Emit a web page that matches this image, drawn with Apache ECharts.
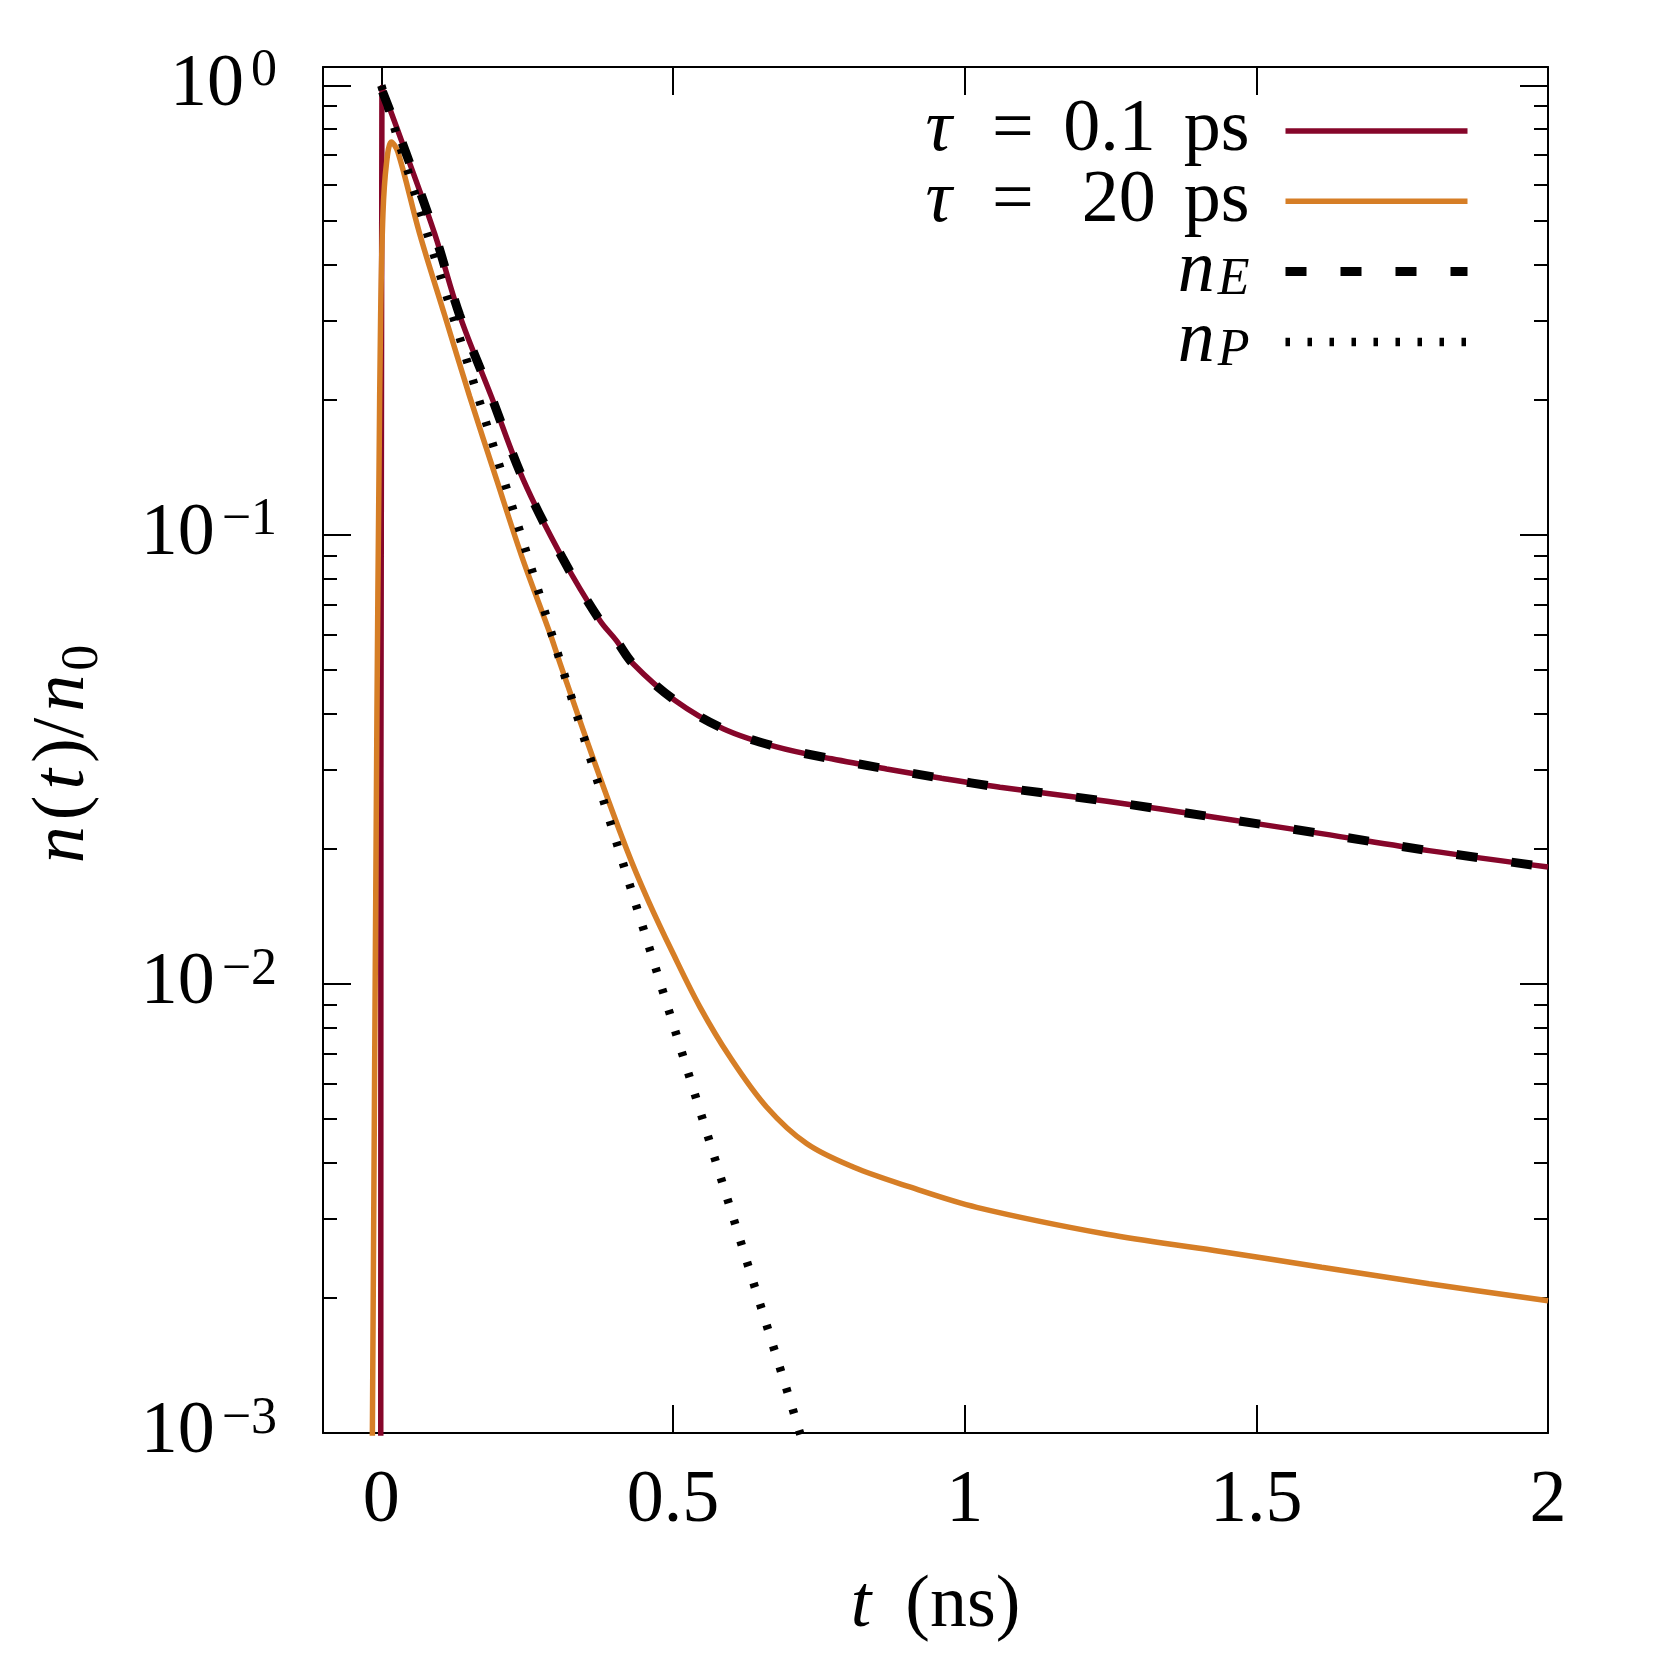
<!DOCTYPE html>
<html>
<head>
<meta charset="utf-8">
<title>n(t)/n0</title>
<script src="https://cdn.jsdelivr.net/npm/echarts@6/dist/echarts.min.js"></script>
<style>
  html, body { margin: 0; padding: 0; background: #fff; }
  #chart { width: 1661px; height: 1661px; }
</style>
</head>
<body>
<div id="chart"></div>
<script>
// values: t in ns, n = n(t)/n0
const seriesNames = ["tau01", "tau20", "nE", "nP"];

const tShort = [-0.001, 0.001, 0.0417, 0.0914, 0.1343, 0.1887, 0.2429, 0.31, 0.3744, 0.403, 0.4316, 0.503, 0.586, 0.6775, 0.7719, 0.8662, 0.9605, 1.0606, 1.244, 1.428, 1.612, 1.796, 2.0];
const nShort = [0.0008, 0.99, 0.711, 0.468, 0.308, 0.203, 0.133, 0.089, 0.0645, 0.0581, 0.0516, 0.0428, 0.037, 0.0337, 0.0317, 0.0301, 0.0287, 0.0274, 0.0255, 0.0235, 0.0216, 0.0198, 0.0182];

const tLong = [-0.0158, -0.0075, -0.0041, -0.0012, 0.0028, 0.0086, 0.0172, 0.0285, 0.0657, 0.1086, 0.1515, 0.1973, 0.2401, 0.2887, 0.3058, 0.363, 0.4202, 0.4573, 0.5002, 0.546, 0.5974, 0.6604, 0.729, 0.809, 0.906, 1.0206, 1.244, 1.428, 1.612, 1.796, 2.0];
const nLong = [0.0008, 0.0406, 0.133, 0.308, 0.519, 0.667, 0.749, 0.711, 0.468, 0.308, 0.203, 0.133, 0.09, 0.0605, 0.052, 0.0318, 0.02, 0.01535, 0.01168, 0.00889, 0.00688, 0.00532, 0.00441, 0.00391, 0.00353, 0.00318, 0.00277, 0.00255, 0.00234, 0.00215, 0.00197];

const tE = [0.002, 0.0417, 0.0914, 0.1343, 0.1887, 0.2429, 0.31, 0.3744, 0.403, 0.4316, 0.503, 0.586, 0.6775, 0.7719, 0.8662, 0.9605, 1.0606, 1.244, 1.428, 1.612, 1.796, 2.0];
const nE = [0.97, 0.711, 0.468, 0.308, 0.203, 0.133, 0.089, 0.0645, 0.0581, 0.0516, 0.0428, 0.037, 0.0337, 0.0317, 0.0301, 0.0287, 0.0274, 0.0255, 0.0235, 0.0216, 0.0198, 0.0182];

const tP = [0.0, 0.1, 0.2, 0.3, 0.4, 0.5, 0.6, 0.7, 0.7176, 0.73];
const nP = [1.0, 0.382, 0.146, 0.0557, 0.0213, 0.00815, 0.00311, 0.00119, 0.001, 0.00088];

const xTickValues = [0, 0.5, 1, 1.5, 2];
const xTickLabels = ["0", "0.5", "1", "1.5", "2"];
const yTickValues = [1, 0.1, 0.01, 0.001];
const yTickExponents = ["0", "\u22121", "\u22122", "\u22123"];
const yMinorValues = [0.002, 0.003, 0.004, 0.005, 0.006, 0.007, 0.008, 0.009,
  0.02, 0.03, 0.04, 0.05, 0.06, 0.07, 0.08, 0.09,
  0.2, 0.3, 0.4, 0.5, 0.6, 0.7, 0.8, 0.9];

const serif = '"Liberation Serif", "DejaVu Serif", serif';
const red = "#86062a";
const orange = "#d67e26";

const yMin = Math.log10(0.001);
const yMax = Math.log10(1.1);
const yMajor = yTickValues.map(Math.log10);
const yMinor = yMinorValues.map(Math.log10);

function toPoints(ts, ns) {
  return ts.map((t, i) => [t, Math.log10(ns[i])]);
}

const tick = { color: "#000", width: 2 };

function yAxisDef(position, ticks, len, line) {
  return {
    type: "value",
    position: position,
    min: yMin,
    max: yMax,
    axisLine: { show: line, onZero: false, lineStyle: tick },
    axisTick: { show: true, inside: true, length: len, customValues: ticks, lineStyle: tick },
    axisLabel: { show: false },
    splitLine: { show: false },
  };
}

function xAxisDef(position) {
  return {
    type: "value",
    position: position,
    min: -0.1,
    max: 2,
    axisLine: { show: true, onZero: false, lineStyle: tick },
    axisTick: { show: true, inside: true, length: 28, customValues: xTickValues, lineStyle: tick },
    axisLabel: { show: false },
    splitLine: { show: false },
  };
}

const yMainAxis = yAxisDef("left", yMajor, 28, true);
yMainAxis.axisLabel = {
  show: true,
  customValues: yMajor,
  margin: 46,
  formatter: (v) => {
    const i = yMajor.findIndex((m) => Math.abs(m - v) < 1e-6);
    return "{b|10}{s|" + yTickExponents[i] + "}";
  },
  rich: {
    b: { fontFamily: serif, fontSize: 74, lineHeight: 80, color: "#000", verticalAlign: "middle" },
    s: { fontFamily: serif, fontSize: 52, lineHeight: 40, color: "#000", verticalAlign: "top", padding: [0, 0, 0, 7] },
  },
};
yMainAxis.name = "{i|n}{u|(}{i|t}{u|)/}{i|n}{sub|0}";
yMainAxis.nameLocation = "middle";
yMainAxis.nameRotate = 90;
yMainAxis.nameGap = 214;
yMainAxis.nameTextStyle = {
  fontFamily: serif,
  fontSize: 74,
  lineHeight: 90,
  color: "#000",
  rich: {
    i: { fontFamily: serif, fontStyle: "italic", fontSize: 74, lineHeight: 90, padding: [0, 4], verticalAlign: "middle" },
    u: { fontFamily: serif, fontSize: 74, lineHeight: 90, padding: [0, 2], verticalAlign: "middle" },
    sub: { fontFamily: serif, fontSize: 52, lineHeight: 44, padding: [0, 12, 0, 0], verticalAlign: "bottom" },
  },
};

const xMainAxis = xAxisDef("bottom");
xMainAxis.axisLabel = {
  show: true,
  customValues: xTickValues,
  margin: 32,
  fontFamily: serif,
  fontSize: 74,
  lineHeight: 74,
  color: "#000",
  formatter: (v) => xTickLabels[xTickValues.findIndex((x) => Math.abs(x - v) < 1e-6)],
};
xMainAxis.name = "{i|t}{u|(ns)}";
xMainAxis.nameLocation = "middle";
xMainAxis.nameGap = 134;
xMainAxis.nameTextStyle = {
  fontFamily: serif,
  fontSize: 74,
  lineHeight: 80,
  color: "#000",
  rich: {
    i: { fontFamily: serif, fontStyle: "italic", fontSize: 74, lineHeight: 80 },
    u: { fontFamily: serif, fontSize: 74, lineHeight: 80, padding: [0, 0, 0, 34] },
  },
};

const chart = echarts.init(document.getElementById("chart"));
chart.setOption({
  animation: false,
  backgroundColor: "#fff",
  grid: { left: 323, right: 113, top: 67, bottom: 228, outerBoundsMode: "none" },
  xAxis: [xMainAxis, xAxisDef("top")],
  yAxis: [
    yMainAxis,
    yAxisDef("left", yMinor, 14, false),
    yAxisDef("right", yMajor, 28, true),
    yAxisDef("right", yMinor, 14, false),
  ],
  legend: {
    orient: "vertical",
    align: "right",
    right: 189,
    top: 94,
    padding: 0,
    itemGap: -3.7,
    itemWidth: 182,
    itemHeight: 2,
    selectedMode: false,
    itemStyle: { opacity: 0 },
    data: [
      { name: "tau01", lineStyle: { width: 5.5 } },
      { name: "tau20", lineStyle: { width: 5.5 } },
      { name: "nE", lineStyle: { width: 9 } },
      { name: "nP", lineStyle: { width: 8.5 } },
    ],
    formatter: (name) => ({
      tau01: "{i|\u03c4}{eq|=}{num|0.1}{ps|ps}",
      tau20: "{i|\u03c4}{eq|=}{num|20}{ps|ps}",
      nE: "{i|n}{sub|E}",
      nP: "{i|n}{sub|P}",
    })[name],
    textStyle: {
      fontFamily: serif,
      fontSize: 74,
      lineHeight: 70,
      color: "#000",
      padding: [0, 31, 0, 0],
      rich: {
        i: { fontFamily: serif, fontStyle: "italic", fontSize: 74, lineHeight: 70, verticalAlign: "middle" },
        eq: { fontFamily: serif, fontSize: 74, lineHeight: 70, padding: [0, 30, 0, 40], verticalAlign: "middle" },
        num: { fontFamily: serif, fontSize: 74, lineHeight: 70, width: 92, align: "right", verticalAlign: "middle" },
        ps: { fontFamily: serif, fontSize: 74, lineHeight: 70, padding: [0, 0, 0, 28], verticalAlign: "middle" },
        sub: { fontFamily: serif, fontStyle: "italic", fontSize: 52, lineHeight: 32, padding: [0, 0, 0, 3], verticalAlign: "bottom" },
      },
    },
  },
  series: [
    {
      name: "tau01",
      type: "line",
      data: toPoints(tShort, nShort),
      symbol: "none",
      smooth: 0.35,
      color: red,
      lineStyle: { color: red, width: 5.5 },
      z: 2,
    },
    {
      name: "tau20",
      type: "line",
      data: toPoints(tLong, nLong),
      symbol: "none",
      smooth: 0.35,
      color: orange,
      lineStyle: { color: orange, width: 5.5 },
      z: 2,
    },
    {
      name: "nE",
      type: "line",
      data: toPoints(tE, nE),
      symbol: "none",
      smooth: 0.35,
      color: "#000",
      lineStyle: { color: "#000", width: 9, type: [21, 34] },
      z: 3,
    },
    {
      name: "nP",
      type: "line",
      data: toPoints(tP, nP),
      symbol: "none",
      color: "#000",
      lineStyle: { color: "#000", width: 8.5, type: [4.5, 17.5] },
      z: 3,
    },
  ],
});
</script>
</body>
</html>
